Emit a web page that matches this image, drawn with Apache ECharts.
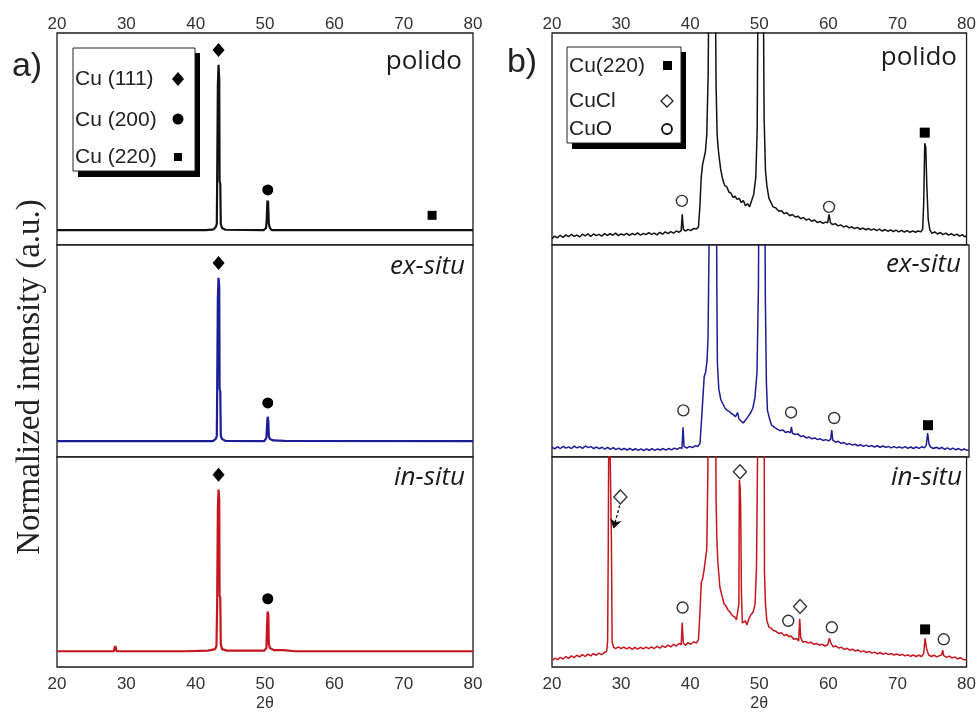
<!DOCTYPE html>
<html>
<head>
<meta charset="utf-8">
<script src="https://cdn.jsdelivr.net/npm/echarts@6/dist/echarts.min.js"></script>
<style>
  html, body { margin: 0; padding: 0; background: #fff; }
  #chart { width: 979px; height: 713px; }
</style>
</head>
<body>
<div id="chart"></div>
<script>
// x range and ticks (2θ)
var xTicks = [20, 30, 40, 50, 60, 70, 80];

// panel a) — normalized intensity, 0-100 inside each box
var aPolido = [[20,7],[25.9,7],[26,7.8],[26.1,7],[36.5,7],[36.6,7.6],[36.7,7],[41.5,7],[42.6,7.4],[42.9,8.5],[43.05,10],[43.1,30],[43.2,75],[43.3,85],[43.4,78],[43.45,30],[43.55,29],[43.62,10],[43.8,8],[44.3,7.2],[49.8,7],[50.15,8],[50.25,12],[50.35,21],[50.45,20],[50.55,10],[50.7,8],[51,7],[73.9,7],[74.1,7.8],[74.3,7],[80,7]];
var aExSitu = [[20,7.5],[38.4,7.5],[38.5,8.2],[38.6,7.5],[42.5,7.5],[42.9,8.5],[43.05,10],[43.1,30],[43.2,75],[43.3,84.5],[43.4,80],[43.45,32],[43.55,31],[43.62,10],[43.8,8.5],[44.3,7.6],[49.9,7.5],[50.2,9],[50.3,15],[50.38,19],[50.48,17],[50.55,10],[50.7,8.5],[51.2,7.8],[52.8,7.6],[52.9,8.2],[53,7.5],[80,7.5]];
var aInSitu = [[20,7.5],[28.2,7.5],[28.3,9],[28.4,10],[28.5,9],[28.6,7.5],[38.6,7.5],[38.7,8.2],[38.8,7.5],[41.8,7.8],[42.8,8.5],[43.0,10],[43.1,30],[43.2,75],[43.3,84.5],[43.4,80],[43.45,34],[43.55,33],[43.62,11],[43.8,8.5],[44.5,7.8],[47.2,7.8],[47.3,8.6],[47.4,7.8],[49.9,7.8],[50.2,9],[50.3,20],[50.38,26.4],[50.48,25],[50.55,11],[50.7,9],[51.3,8],[52.6,8],[52.8,7.5],[54.4,7.5],[54.5,8],[54.6,7.5],[56,7.5],[56.1,8.2],[56.2,7.5],[80,7.5]];

// panel b) — zoomed intensity, strong Cu peaks run off the top
var bPolido = [[20,3.0],[20.4,4.2],[20.8,3.4],[21.2,4.6],[21.6,3.6],[22,4.8],[22.4,3.9],[22.8,5.0],[23.2,4.1],[23.6,4.7],[24,3.8],[24.4,5.1],[24.8,4.3],[25.2,5.3],[25.6,4.0],[26,5.2],[26.4,4.4],[26.8,5.0],[27.2,4.2],[27.6,5.4],[28,4.5],[28.4,5.3],[28.8,4.6],[29.2,5.6],[29.6,4.4],[30,5.2],[30.4,4.7],[30.8,5.5],[31.2,4.5],[31.6,5.4],[32,4.8],[32.4,5.7],[32.8,4.6],[33.2,5.5],[33.6,4.9],[34,5.8],[34.4,5.0],[34.8,5.6],[35.2,4.8],[35.6,6.0],[36,5.1],[36.4,6.2],[36.8,5.4],[37.2,6.3],[37.6,5.6],[38,6.6],[38.4,6.0],[38.7,6.8],[38.85,14.5],[39.0,7.5],[39.3,6.6],[39.7,7.4],[40.1,6.8],[40.5,7.8],[40.9,7.6],[41.2,8.5],[41.4,18],[41.6,32],[41.8,38],[42.0,41],[42.2,44],[42.4,52],[42.6,80],[42.75,140],[43.6,140],[43.75,75],[43.9,52],[44.1,44],[44.4,36],[44.7,31],[45.0,28],[45.3,27.5],[45.6,25],[45.9,24.5],[46.2,22.5],[46.5,23],[46.8,21.5],[47.1,22],[47.4,20],[47.7,21],[48.0,18.5],[48.3,19.5],[48.6,18],[48.9,21],[49.2,24],[49.5,32],[49.7,55],[49.85,140],[50.55,140],[50.7,60],[50.9,35],[51.1,28],[51.4,22],[51.7,20],[52.0,18],[52.4,17.5],[52.8,16],[53.2,16.2],[53.6,14.8],[54,15.2],[54.4,13.8],[54.8,14.4],[55.2,13.2],[55.6,13.6],[56,12.4],[56.4,13],[56.8,11.8],[57.2,12.3],[57.6,11.2],[58,11.8],[58.4,10.6],[58.8,11.1],[59.2,10.2],[59.6,10.8],[59.9,10.5],[60.1,14.5],[60.3,10.6],[60.6,9.6],[61,10.1],[61.4,9.0],[61.8,9.5],[62.2,8.5],[62.6,9.0],[63,8.1],[63.4,8.6],[63.8,7.7],[64.2,8.3],[64.6,7.4],[65,8.0],[65.4,7.2],[65.8,7.8],[66.2,7.0],[66.6,7.6],[67,6.8],[67.4,7.5],[67.8,6.6],[68.2,7.3],[68.6,6.5],[69,7.1],[69.4,6.3],[69.8,7.0],[70.2,6.2],[70.6,6.9],[71,6.1],[71.4,6.8],[71.8,6.0],[72.2,6.7],[72.6,6.0],[73,6.6],[73.4,6.2],[73.65,7.5],[73.8,20],[73.95,48],[74.1,46],[74.25,28],[74.45,12],[74.7,7],[75,5.5],[75.4,6.2],[75.8,5.2],[76.2,5.9],[76.6,4.9],[77,5.6],[77.4,4.7],[77.8,5.4],[78.2,4.4],[78.6,5.1],[79,4.2],[79.4,4.9],[79.7,3.9],[80,4.3]];
var bExSitu = [[20,4.6],[20.4,3.8],[20.8,4.9],[21.2,4.0],[21.6,5.0],[22,4.2],[22.4,4.8],[22.8,4.0],[23.2,5.1],[23.6,4.3],[24,4.9],[24.4,4.1],[24.8,5.2],[25.2,4.4],[25.6,4.9],[26,4.0],[26.4,4.7],[26.8,3.9],[27.2,4.6],[27.6,3.7],[28,4.5],[28.4,3.6],[28.8,4.4],[29.2,3.5],[29.6,4.2],[30,3.4],[30.4,4.0],[30.8,3.3],[31.2,4.1],[31.6,3.2],[32,3.9],[32.4,3.1],[32.8,3.8],[33.2,3.0],[33.6,3.8],[34,3.2],[34.4,3.9],[34.8,3.1],[35.2,3.8],[35.6,3.3],[36,4.0],[36.4,3.2],[36.8,4.1],[37.2,3.4],[37.6,4.2],[38,3.6],[38.4,4.4],[38.7,4.0],[38.85,14],[39.0,5.0],[39.4,4.2],[39.8,5.0],[40.2,4.4],[40.6,5.3],[41.0,5.0],[41.3,6.5],[41.6,22],[41.9,38],[42.1,40],[42.3,45],[42.45,56],[42.6,100],[42.7,140],[43.65,140],[43.72,79],[43.8,44],[44.0,32],[44.3,27],[44.6,25],[44.9,23],[45.2,22],[45.5,21.5],[45.8,20.5],[46.1,20],[46.4,19],[46.7,21],[46.9,18],[47.2,17],[47.5,16],[47.7,16.8],[48.0,18],[48.3,19.5],[48.6,21],[48.9,23],[49.2,28],[49.5,40],[49.7,80],[49.8,140],[50.6,140],[50.7,74],[50.85,35],[51.0,22],[51.3,18],[51.6,15],[52,14],[52.4,13.2],[52.8,12.4],[53.2,12.8],[53.6,11.6],[54,12.0],[54.3,11.4],[54.45,14.2],[54.6,11.2],[55,10.6],[55.4,10.8],[55.8,9.6],[56.2,10.0],[56.6,9.0],[57,9.4],[57.4,8.6],[57.8,9.0],[58.2,8.2],[58.6,8.6],[59,7.8],[59.4,8.2],[59.8,7.6],[60.1,8.4],[60.25,12.7],[60.4,8.0],[60.8,7.0],[61.2,7.4],[61.6,6.4],[62,6.8],[62.4,5.9],[62.8,6.3],[63.2,5.6],[63.6,6.0],[64,5.3],[64.4,5.8],[64.8,5.0],[65.2,5.6],[65.6,4.9],[66,5.4],[66.4,4.7],[66.8,5.3],[67.2,4.6],[67.6,5.2],[68,4.5],[68.4,5.0],[68.8,4.3],[69.2,4.9],[69.6,4.3],[70,4.8],[70.4,4.2],[70.8,4.9],[71.2,4.1],[71.6,4.7],[72,4.0],[72.4,4.7],[72.8,4.1],[73.2,4.8],[73.6,4.4],[73.85,5.5],[74.05,11.3],[74.25,6.0],[74.5,4.6],[74.9,4.0],[75.3,4.6],[75.7,3.9],[76.1,4.5],[76.5,3.6],[76.9,4.3],[77.3,3.5],[77.7,4.2],[78.1,3.4],[78.5,4.0],[78.9,3.2],[79.3,3.8],[79.7,3.1],[80,3.5]];
var bInSitu = [[20,3.0],[20.4,4.2],[20.8,3.5],[21.2,4.6],[21.6,3.8],[22,5.0],[22.4,4.1],[22.8,5.3],[23.2,4.5],[23.6,5.6],[24,4.8],[24.4,5.9],[24.8,5.0],[25.2,6.1],[25.6,5.3],[26,6.4],[26.4,5.6],[26.8,6.6],[27.2,5.9],[27.6,7.0],[27.9,7.4],[28.05,12],[28.15,60],[28.25,140],[28.5,140],[28.6,60],[28.7,12],[28.9,9.5],[29.2,8.8],[29.6,9.6],[30,8.7],[30.4,9.5],[30.8,8.6],[31.2,9.4],[31.6,8.4],[32,9.3],[32.4,8.5],[32.8,9.4],[33.2,8.6],[33.6,9.5],[34,8.7],[34.4,9.6],[34.8,8.8],[35.2,9.8],[35.6,9.0],[36,10.1],[36.4,9.3],[36.8,10.4],[37.2,9.6],[37.6,10.8],[38,10.0],[38.4,11.2],[38.7,10.6],[38.85,21],[39.0,11.5],[39.3,10.3],[39.7,11.6],[40.1,10.8],[40.5,12.0],[40.9,11.4],[41.2,13],[41.4,25],[41.6,40],[41.8,42],[42.0,46],[42.2,51],[42.4,56],[42.55,90],[42.65,140],[43.65,140],[43.75,80],[43.85,62],[44.0,50],[44.3,38],[44.6,34],[44.9,30],[45.2,29],[45.5,27],[45.8,26],[46.1,24.5],[46.4,24],[46.7,22.5],[46.95,23],[47.05,30],[47.12,89],[47.22,86],[47.3,78],[47.42,35],[47.55,21],[47.8,20.5],[48.0,22],[48.2,20],[48.5,23],[48.8,25],[49.1,26],[49.4,30],[49.6,48],[49.75,100],[49.8,140],[50.7,140],[50.75,45],[50.9,30],[51.1,22],[51.4,19],[51.7,18.5],[52,17.5],[52.4,17],[52.8,16],[53.2,16.3],[53.6,15],[54,15.5],[54.3,14.4],[54.6,14.8],[55,13.2],[55.4,13.6],[55.7,12.4],[55.85,23],[56.0,14],[56.3,11.8],[56.7,12.2],[57.1,11.4],[57.5,11.8],[57.9,10.8],[58.3,11.2],[58.7,10.4],[59.1,10.8],[59.5,10.0],[59.9,10.6],[60.15,13.7],[60.35,11.5],[60.7,9.6],[61.1,10],[61.5,9.0],[61.9,9.4],[62.3,8.4],[62.7,8.9],[63.1,8.0],[63.5,8.5],[63.9,7.6],[64.3,8.1],[64.7,7.2],[65.1,7.7],[65.5,6.9],[65.9,7.4],[66.3,6.6],[66.7,7.1],[67.1,6.3],[67.5,6.9],[67.9,6.1],[68.3,6.6],[68.7,5.9],[69.1,6.4],[69.5,5.7],[69.9,6.2],[70.3,5.5],[70.7,6.0],[71.1,5.3],[71.5,5.8],[71.9,5.1],[72.3,5.7],[72.7,5.0],[73.1,5.6],[73.5,5.0],[73.8,6.5],[74.0,13.7],[74.2,9.0],[74.5,5.8],[74.9,5.0],[75.3,5.6],[75.7,4.8],[76.1,5.4],[76.4,5.8],[76.55,8.0],[76.7,5.4],[77.1,4.6],[77.5,5.2],[77.9,4.2],[78.3,4.8],[78.7,3.8],[79.1,4.4],[79.5,3.6],[80,3.3]];

// peak markers: [2θ, height, kind]  d = diamond, c = circle, s = square
var aPolidoMarks = [[43.3,92,'d'],[50.4,26,'c'],[74.1,14,'s']];
var aExSituMarks = [[43.3,91.5,'d'],[50.4,25.5,'c']];
var aInSituMarks = [[43.3,91.5,'d'],[50.4,32.5,'c']];
var bPolidoMarks = [[38.8,20.8,'c'],[60.1,18,'c'],[73.95,53,'s']];
var bExSituMarks = [[38.9,22,'c'],[54.4,21,'c'],[60.6,18.4,'c'],[74.1,15,'s']];
var bInSituMarks = [[29.9,81,'d'],[47.2,93,'d'],[38.9,28.3,'c'],[54.2,22,'c'],[55.9,28.8,'d'],[60.5,18.9,'c'],[74,17.9,'s'],[76.7,13.2,'c']];

// arrow in b) in-situ, CuCl label -> 28.4 peak
var bArrow = [[29.8, 77], [28.9, 66]];

var sampleNames = ['polido', 'ex-situ', 'in-situ'];
var legendA = ['Cu (111)', 'Cu (200)', 'Cu (220)'];
var legendB = ['Cu(220)', 'CuCl', 'CuO'];

var myChart = echarts.init(document.getElementById('chart'));

var boxTops = [33, 245, 457];
var boxH = 212;
var panelLeft = [57, 552];
var panelW = [416, 417];
var colors = ['#111111', '#1c1c96', '#c4161c'];

var grids = [], xAxes = [], yAxes = [], series = [];
var traces = [[aPolido, aExSitu, aInSitu], [bPolido, bExSitu, bInSitu]];
var marks = [[aPolidoMarks, aExSituMarks, aInSituMarks], [bPolidoMarks, bExSituMarks, bInSituMarks]];

var symbolOf = { d: 'diamond', c: 'circle', s: 'rect' };
var sizeA = { d: [12, 14], c: 11, s: 9 };
var sizeB = { d: [13, 14], c: 11, s: 10 };

for (var p = 0; p < 2; p++) {
	for (var r = 0; r < 3; r++) {
		var gi = p * 3 + r;
		grids.push({
			left: panelLeft[p], top: boxTops[r], width: panelW[p], height: boxH,
			show: true, borderColor: '#1a1a1a', borderWidth: 1.3, backgroundColor: '#fff'
		});
		var xa = {
			type: 'value', gridIndex: gi, min: xTicks[0], max: xTicks[xTicks.length - 1], interval: 10,
			position: r == 0 ? 'top' : 'bottom',
			axisLine: { show: false }, axisTick: { show: false }, splitLine: { show: false },
			axisLabel: {
				show: r != 1, margin: r == 0 ? 0 : 9,
				fontFamily: 'Liberation Sans', fontSize: 17, color: '#333'
			}
		};
		if (r == 2) {
			xa.name = '2θ';
			xa.nameLocation = 'middle';
			xa.nameGap = 29;
			xa.nameTextStyle = { fontFamily: 'Liberation Sans', fontSize: 16, color: '#333' };
		}
		xAxes.push(xa);
		yAxes.push({ type: 'value', gridIndex: gi, min: 0, max: 100, show: false });

		var line = {
			type: 'line', xAxisIndex: gi, yAxisIndex: gi,
			data: traces[p][r], showSymbol: false, clip: true, animation: false,
			lineStyle: { color: colors[r], width: p == 0 ? 2.2 : 1.5 }
		};
		if (p == 1 && r == 2) {
			line.markLine = {
				silent: true, animation: false, symbol: ['none', 'arrow'], symbolSize: 9,
				label: { show: false },
				lineStyle: { color: '#111', type: [3, 2], width: 1.3 },
				data: [[{ coord: bArrow[0] }, { coord: bArrow[1] }]]
			};
		}
		series.push(line);

		var md = marks[p][r].map(function (m) {
			var open = p == 1 && m[2] != 's';
			return {
				value: [m[0], m[1]],
				symbol: symbolOf[m[2]],
				symbolSize: (p == 0 ? sizeA : sizeB)[m[2]],
				itemStyle: open
					? { color: '#fff', borderColor: '#333', borderWidth: 1.4, opacity: 1 }
					: { color: '#000', opacity: 1 }
			};
		});
		series.push({
			type: 'scatter', xAxisIndex: gi, yAxisIndex: gi, data: md,
			animation: false, silent: true, z: 5
		});
	}
}

var graphic = [];
// y axis title
graphic.push({
	type: 'text', x: 30, y: 377, rotation: Math.PI / 2,
	style: { text: 'Normalized intensity (a.u.)', fontFamily: 'Liberation Serif', fontSize: 33, fill: '#222', align: 'center', verticalAlign: 'middle' }
});
// panel letters
graphic.push({ type: 'text', x: 27, y: 67, style: { text: 'a)', fontFamily: 'Liberation Sans', fontSize: 34, fill: '#222', align: 'center', verticalAlign: 'middle' } });
graphic.push({ type: 'text', x: 522, y: 63, style: { text: 'b)', fontFamily: 'Liberation Sans', fontSize: 34, fill: '#222', align: 'center', verticalAlign: 'middle' } });
// sample names
var nameRight = [[462, 465, 465], [957, 961, 962]];
var nameY = [[62, 267, 478], [58, 265, 478]];
for (var p = 0; p < 2; p++) {
	for (var r = 0; r < 3; r++) {
		graphic.push({
			type: 'text', x: nameRight[p][r], y: nameY[p][r],
			style: {
				text: sampleNames[r], fill: '#1a1a1a', align: 'right', verticalAlign: 'middle',
				fontFamily: 'Open Sans', fontSize: 26, fontStyle: r == 0 ? 'normal' : 'italic'
			}
		});
	}
}

// legend box a)
graphic.push({ type: 'rect', shape: { x: 78, y: 53, width: 122, height: 124 }, style: { fill: '#000' } });
graphic.push({ type: 'rect', shape: { x: 73, y: 48, width: 122, height: 123 }, style: { fill: '#fff', stroke: '#222', lineWidth: 1 } });
var legAY = [79, 120, 157];
for (var i = 0; i < 3; i++) {
	graphic.push({ type: 'text', x: 75, y: legAY[i], style: { text: legendA[i], fontFamily: 'Liberation Sans', fontSize: 21, fill: '#222', align: 'left', verticalAlign: 'middle' } });
}
graphic.push({ type: 'polygon', shape: { points: [[178, 72], [184, 79], [178, 86], [172, 79]] }, style: { fill: '#000' } });
graphic.push({ type: 'circle', shape: { cx: 178, cy: 119, r: 5.5 }, style: { fill: '#000' } });
graphic.push({ type: 'rect', shape: { x: 174, y: 153, width: 8, height: 8 }, style: { fill: '#000' } });

// legend box b)
graphic.push({ type: 'rect', shape: { x: 572, y: 52, width: 114, height: 97 }, style: { fill: '#000' } });
graphic.push({ type: 'rect', shape: { x: 567, y: 47, width: 114, height: 96 }, style: { fill: '#fff', stroke: '#222', lineWidth: 1 } });
var legBY = [66, 101, 129];
for (var i = 0; i < 3; i++) {
	graphic.push({ type: 'text', x: 569, y: legBY[i], style: { text: legendB[i], fontFamily: 'Liberation Sans', fontSize: 21, fill: '#222', align: 'left', verticalAlign: 'middle' } });
}
graphic.push({ type: 'rect', shape: { x: 663, y: 61, width: 9, height: 9 }, style: { fill: '#000' } });
graphic.push({ type: 'polygon', shape: { points: [[667, 95], [673, 101], [667, 107], [661, 101]] }, style: { fill: '#fff', stroke: '#222', lineWidth: 1.3 } });
graphic.push({ type: 'circle', shape: { cx: 667, cy: 129, r: 5 }, style: { fill: '#fff', stroke: '#111', lineWidth: 1.8 } });

var option = {
	backgroundColor: '#fff',
	animation: false,
	grid: grids,
	xAxis: xAxes,
	yAxis: yAxes,
	series: series,
	graphic: graphic
};
myChart.setOption(option);
</script>
</body>
</html>
